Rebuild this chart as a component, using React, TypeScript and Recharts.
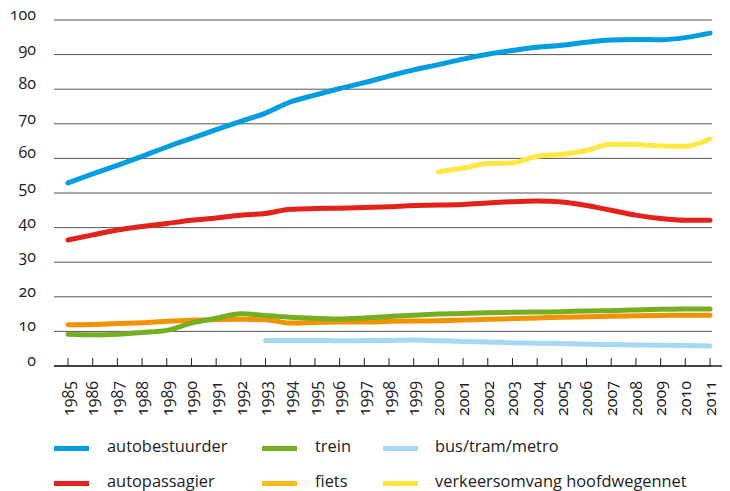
import React from 'react';
import { LineChart, Line, XAxis, YAxis, CartesianGrid } from 'recharts';

const years = ['1985','1986','1987','1988','1989','1990','1991','1992','1993','1994','1995','1996','1997','1998','1999','2000','2001','2002','2003','2004','2005','2006','2007','2008','2009','2010','2011'];

const autobestuurder = [52.9,55.5,58.0,60.6,63.3,65.8,68.3,70.7,73.1,76.3,78.3,80.2,81.9,83.8,85.6,87.1,88.7,90.1,91.2,92.1,92.7,93.6,94.2,94.4,94.3,94.9,96.2];
const autopassagier = [36.4,37.9,39.3,40.3,41.2,42.1,42.8,43.6,44.1,45.3,45.5,45.6,45.8,46.0,46.4,46.5,46.7,47.1,47.5,47.7,47.4,46.4,45.0,43.6,42.6,42.1,42.1];
const trein = [9.2,9.0,9.2,9.7,10.3,12.4,13.8,15.1,14.6,14.1,13.8,13.6,13.9,14.3,14.7,15.0,15.2,15.4,15.5,15.6,15.7,15.9,16.0,16.2,16.4,16.5,16.5];
const fiets = [11.9,12.0,12.3,12.5,12.9,13.2,13.4,13.5,13.4,12.4,12.6,12.7,12.7,12.9,13.0,13.1,13.3,13.5,13.7,13.9,14.1,14.2,14.4,14.5,14.6,14.7,14.7];
const busTramMetro = [null,null,null,null,null,null,null,null,7.4,7.4,7.4,7.3,7.35,7.4,7.5,7.3,7.1,6.95,6.7,6.6,6.5,6.3,6.2,6.1,6.0,5.9,5.8];
const verkeersomvang = [null,null,null,null,null,null,null,null,null,null,null,null,null,null,null,56.1,57.2,58.5,58.7,60.6,61.2,62.3,64.1,64.0,63.6,63.5,65.6];

const yTicks = [0,10,20,30,40,50,60,70,80,90,100];

const series = [
  { key: 'verkeersomvang', name: 'verkeersomvang hoofdwegennet', values: verkeersomvang, color: '#ffe842' },
  { key: 'bus', name: 'bus/tram/metro', values: busTramMetro, color: '#a5d8f4' },
  { key: 'fiets', name: 'fiets', values: fiets, color: '#f39200' },
  { key: 'trein', name: 'trein', values: trein, color: '#76ae22' },
  { key: 'autopassagier', name: 'autopassagier', values: autopassagier, color: '#e3231b' },
  { key: 'autobestuurder', name: 'autobestuurder', values: autobestuurder, color: '#009ee0' },
];

const data = years.map((y, i) => {
  const row: any = { year: y };
  series.forEach(s => { row[s.key] = s.values[i]; });
  return row;
});

const legendRows = [
  [
    { name: 'autobestuurder', color: '#009ee0' },
    { name: 'trein', color: '#76ae22' },
    { name: 'bus/tram/metro', color: '#a5d8f4' },
  ],
  [
    { name: 'autopassagier', color: '#e3231b' },
    { name: 'fiets', color: '#fbba1b' },
    { name: 'verkeersomvang hoofdwegennet', color: '#ffe53a' },
  ],
];
const colSwatchX = [54, 262, 383];
const colTextX = [107, 315, 435];
const rowY = [448, 483];

const FONT = '"Open Sans", sans-serif';

const XTick = (props: any) => {
  const { x, y, payload } = props;
  const ty = y + 15;
  return (
    <g>
      <line x1={x} x2={x} y1={y} y2={y - 8} stroke="#222" strokeWidth={1} />
      <text
        x={x}
        y={ty}
        transform={`rotate(-90, ${x}, ${ty})`}
        textAnchor="end"
        dy="0.36em"
        fontSize={16}
        fill="#222"
        fontFamily={FONT}
        style={{ fontVariantNumeric: 'oldstyle-nums' }}
      >
        {payload.value}
      </text>
    </g>
  );
};

const YTick = (props: any) => {
  const { x, y, payload } = props;
  return (
    <text x={x} y={y} textAnchor="end" fontSize={16} fill="#222" fontFamily={FONT} style={{ fontVariantNumeric: 'oldstyle-nums' }}>
      {payload.value}
    </text>
  );
};

const GridLine = (props: any) => {
  const { x1, x2, y1, y2 } = props;
  return <line x1={x1} x2={x2 - 10} y1={y1} y2={y2} stroke="#555" strokeWidth={1} />;
};

export default function App() {
  return (
    <div style={{ position: 'absolute', left: 0, top: 0, width: 730, height: 491, background: '#fff', fontFamily: FONT }}>
      <LineChart width={730} height={491} data={data} margin={{ top: 20, right: 8, bottom: 0, left: 0 }}>
        <CartesianGrid vertical={false} horizontal={GridLine as any} />
        <XAxis
          dataKey="year"
          height={125}
          padding={{ left: 14, right: 12 }}
          tickSize={0}
          tickMargin={0}
          tickLine={false}
          axisLine={{ stroke: '#222', strokeWidth: 1.3 }}
          tick={<XTick />}
          interval={0}
        />
        <YAxis
          width={54}
          domain={[0, 100]}
          ticks={yTicks}
          axisLine={false}
          tickLine={false}
          tickSize={0}
          tickMargin={18}
          tick={<YTick />}
          interval={0}
        />
        {series.map(s => (
          <Line
            key={s.key}
            dataKey={s.key}
            name={s.name}
            type="monotone"
            stroke={s.color}
            strokeWidth={5}
            strokeLinecap="round"
            strokeLinejoin="round"
            dot={false}
            activeDot={false}
            isAnimationActive={false}
            connectNulls={false}
          />
        ))}
      </LineChart>
      {legendRows.map((row, r) =>
        row.map((item, c) => (
          <React.Fragment key={item.name}>
            <div style={{ position: 'absolute', left: colSwatchX[c], top: rowY[r] - 2.5, width: 35, height: 5, background: item.color }} />
            <div style={{ position: 'absolute', left: colTextX[c], top: rowY[r] - 14, fontSize: 16.4, lineHeight: '24px', color: '#222', whiteSpace: 'nowrap' }}>
              {item.name}
            </div>
          </React.Fragment>
        ))
      )}
    </div>
  );
}
